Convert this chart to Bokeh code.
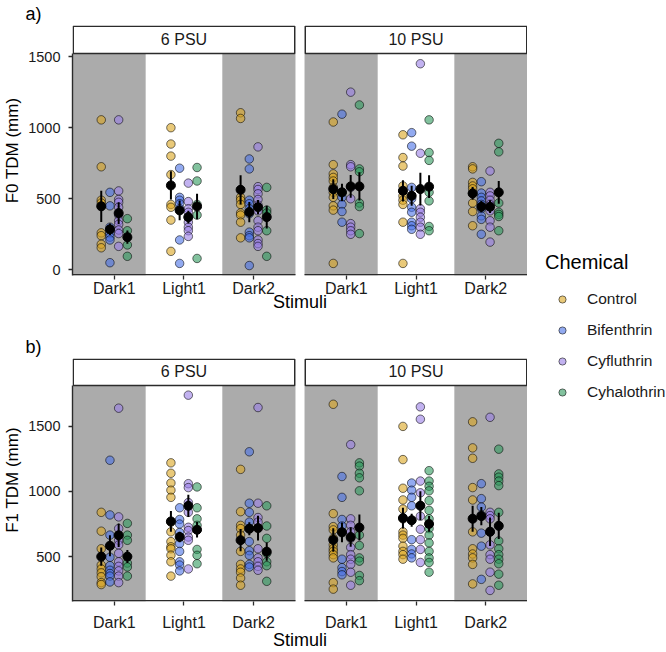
from bokeh.plotting import figure
from bokeh.layouts import row, column
from bokeh.models import Range1d, FixedTicker, Legend, LegendItem
from bokeh.embed import file_html
from bokeh.resources import INLINE
from bokeh.core.properties import value

FONT = "Liberation Sans"

STIMULI = ["Dark1", "Light1", "Dark2"]
FACETS = ["6 PSU", "10 PSU"]
CHEMICALS = ["Control", "Bifenthrin", "Cyfluthrin", "Cyhalothrin"]
COLORS = ["#DAA520", "#4A72E6", "#9A7FE6", "#2E9A5E"]
F0_TICKS = [0, 500, 1000, 1500]
F1_TICKS = [500, 1000, 1500]

# ---------------- F0 TDM (mm), each list = [Dark1, Light1, Dark2] ----------------
F0_6PSU_CONTROL = [[1055, 725, 490, 470, 260, 240, 180, 155],
                   [1000, 885, 800, 670, 460, 440, 350, 130],
                   [1105, 1065, 510, 490, 460, 400, 385, 335, 225]]
F0_6PSU_BIFENTHRIN = [[545, 450, 300, 280, 255, 230, 210, 50],
                      [715, 510, 490, 465, 430, 210, 45],
                      [780, 710, 490, 465, 430, 395, 265, 240, 225, 30]]
F0_6PSU_CYFLUTHRIN = [[1055, 555, 495, 475, 440, 385, 345, 320, 280, 255, 165],
                      [610, 480, 430, 405, 370, 335, 300, 275, 235],
                      [865, 585, 565, 535, 495, 455, 415, 345, 300, 275, 210, 185, 165]]
F0_6PSU_CYHALOTHRIN = [[360, 275, 175, 95],
                       [720, 625, 460, 385, 80],
                       [580, 420, 400, 275, 95]]

F0_10PSU_CONTROL = [[1040, 740, 675, 650, 625, 580, 545, 510, 450, 420, 45],
                    [950, 790, 730, 590, 555, 520, 490, 460, 335, 45],
                    [725, 710, 615, 590, 570, 535, 470, 410, 310]]
F0_10PSU_BIFENTHRIN = [[1095, 545, 510, 460, 410, 335],
                       [965, 870, 580, 500, 440, 405, 335, 310, 285],
                       [620, 540, 510, 485, 460, 430, 380, 355, 250]]
F0_10PSU_CYFLUTHRIN = [[1250, 740, 725, 580, 500, 325, 300, 275, 250],
                       [1450, 820, 430, 405, 370, 335, 300, 250],
                       [695, 545, 520, 490, 460, 415, 345, 300, 195]]
F0_10PSU_CYHALOTHRIN = [[1160, 710, 690, 470, 445, 255],
                        [1055, 825, 770, 545, 485, 305, 275],
                        [890, 830, 470, 405, 390, 375, 275]]

# means and standard errors: rows = stimuli, columns = chemicals
F0_6PSU_MEAN = [[447, 285, 399, 230], [594, 418, 371, 446], [563, 406, 441, 371]]
F0_6PSU_SE = [[110, 40, 76, 47], [100, 70, 45, 90], [103, 72, 50, 80]]
F0_10PSU_MEAN = [[568, 545, 587, 587], [556, 521, 568, 585], [538, 444, 444, 545]]
F0_10PSU_SE = [[70, 60, 80, 100], [75, 70, 115, 80], [45, 40, 45, 80]]

# ---------------- F1 TDM (mm) ----------------
F1_6PSU_CONTROL = [[840, 695, 560, 435, 405, 375, 345, 300, 285],
                   [1220, 1140, 1065, 1010, 955, 765, 690, 615, 575, 560, 510, 460, 350],
                   [1170, 845, 740, 715, 665, 540, 440, 405, 380, 335, 280]]
F1_6PSU_BIFENTHRIN = [[1240, 820, 665, 495, 430, 395, 370, 350, 305],
                      [875, 785, 750, 685, 600, 540, 460, 435, 390],
                      [1305, 910, 840, 765, 715, 615, 545, 510, 440, 420]]
F1_6PSU_CYFLUTHRIN = [[1640, 805, 715, 625, 590, 525, 460, 425, 390, 350, 300],
                      [1740, 1060, 1030, 915, 840, 725, 700, 650, 625, 405],
                      [1645, 910, 800, 765, 560, 490, 460, 425, 395]]
F1_6PSU_CYHALOTHRIN = [[755, 665, 625, 450, 420, 350],
                       [1035, 875, 790, 740, 555, 510, 445],
                       [890, 735, 640, 525, 460, 430, 310]]

F1_10PSU_CONTROL = [[1670, 830, 730, 705, 640, 590, 560, 540, 515, 490, 300, 250],
                    [1500, 1245, 1025, 935, 865, 790, 690, 665, 640, 580, 540, 515, 480],
                    [1535, 1335, 1255, 1030, 935, 690, 560, 520, 490, 440, 290]]
F1_10PSU_BIFENTHRIN = [[1115, 955, 785, 735, 690, 480, 415, 385, 360],
                       [1065, 1010, 955, 890, 780, 630, 555, 520, 490],
                       [1060, 945, 880, 820, 680, 580, 325]]
F1_10PSU_CYFLUTHRIN = [[1360, 790, 740, 690, 640, 570, 515, 480, 440, 380, 280],
                       [1650, 1555, 1080, 990, 890, 810, 710, 630, 555, 455],
                       [1570, 840, 815, 790, 690, 590, 515, 480, 380, 240]]
F1_10PSU_CYHALOTHRIN = [[1220, 1195, 1140, 1105, 1005, 665, 585, 490, 465, 355, 315],
                        [1160, 1080, 1040, 1005, 930, 855, 790, 715, 665, 605, 540, 490, 455, 380],
                        [1325, 1135, 1110, 1080, 1045, 840, 620, 560, 515, 480, 445, 365, 280]]

F1_6PSU_MEAN = [[500, 583, 664, 500], [770, 651, 890, 706], [626, 714, 719, 538]]
F1_6PSU_SE = [[70, 80, 90, 50], [80, 40, 85, 60], [85, 50, 95, 70]]
F1_10PSU_MEAN = [[628, 686, 650, 723], [796, 779, 891, 751], [791, 811, 691, 736]]
F1_10PSU_SE = [[90, 75, 75, 100], [80, 50, 110, 60], [100, 70, 110, 100]]

# ---------------- layout constants ----------------
S = 3.33                      # shift between the two facets (x units)
DODGE = [-0.1875, -0.0625, 0.0625, 0.1875]
XLO, XHI = -0.6, 2.6 + S
BAND_EDGES = [-0.6, 0.45, 1.55, 2.6]
BAND_FILL = ["#ABABAB", None, "#ABABAB"]
TOTAL_W, TOTAL_H = 666, 652
MAIN_W = 527
LEFT_B = 69
FRAME_W = MAIN_W - LEFT_B
LEG_W = TOTAL_W - MAIN_W
DARK = "#2b2b2b"


def make_row(series, means, ses, y_lo, y_hi, ticks, ylabel, tag, height, top, bottom,
             strip_px, label_standoff, title_standoff):
    frame_h = height - top - bottom
    panel_px = frame_h - strip_px
    upp = (y_hi - y_lo) / panel_px
    y_top = y_hi + strip_px * upp
    ppu = FRAME_W / (XHI - XLO)
    p = figure(width=MAIN_W, height=height, x_range=Range1d(XLO, XHI),
               y_range=Range1d(y_lo, y_top), output_backend="svg",
               toolbar_location=None, min_border_left=LEFT_B, min_border_right=0,
               min_border_top=top, min_border_bottom=bottom)
    p.grid.visible = False
    p.outline_line_color = None
    p.background_fill_color = "white"

    # panel tag as title
    p.title.text = tag
    p.title.align = "left"
    p.title.offset = -47
    p.title.standoff = 3
    p.title.text_font = FONT
    p.title.text_font_size = "18px"
    p.title.text_font_style = "normal"
    p.title.text_color = "black"

    # shaded stimulus bands
    bl, br = [], []
    for f in range(len(FACETS)):
        for s in range(len(STIMULI)):
            if BAND_FILL[s]:
                bl.append(f * S + BAND_EDGES[s])
                br.append(f * S + BAND_EDGES[s + 1])
    p.quad(left=bl, right=br, bottom=y_lo, top=y_hi, fill_color=BAND_FILL[0], line_color=None)

    # bottom axis line per facet
    fl = [f * S + BAND_EDGES[0] for f in range(len(FACETS))]
    fr = [f * S + BAND_EDGES[-1] for f in range(len(FACETS))]
    p.quad(left=fl, right=fr, bottom=y_lo, top=y_lo + 1.4 * upp, fill_color=DARK, line_color=None)

    # facet strips
    inset = 0.75 / ppu
    p.quad(left=[v + inset for v in fl], right=[v - inset for v in fr], bottom=y_hi,
           top=y_top - 0.8 * upp, fill_color="white", line_color=DARK, line_width=1.5)
    p.text(x=[(a + b) / 2 for a, b in zip(fl, fr)], y=[(y_hi + y_top) / 2] * len(FACETS),
           text=FACETS, text_font=value(FONT), text_font_size="16px", text_align="center",
           text_baseline="middle", text_color="#1a1a1a")

    # raw points
    for c, chem in enumerate(CHEMICALS):
        xs, ys = [], []
        for f in range(len(FACETS)):
            for s in range(len(STIMULI)):
                for v in series[f][c][s]:
                    xs.append(f * S + s + DODGE[c])
                    ys.append(v)
        p.scatter(x=xs, y=ys, size=8.5, fill_color=COLORS[c], fill_alpha=0.6,
                  line_color="black", line_alpha=0.55, line_width=1)

    # means +/- SE
    mx, my, lo, hi = [], [], [], []
    for f in range(len(FACETS)):
        for s in range(len(STIMULI)):
            for c in range(len(CHEMICALS)):
                m = means[f][s][c]
                e = ses[f][s][c]
                mx.append(f * S + s + DODGE[c])
                my.append(m)
                lo.append(m - e)
                hi.append(m + e)
    p.segment(x0=mx, y0=lo, x1=mx, y1=hi, line_color="black", line_width=2)
    p.scatter(x=mx, y=my, size=9, fill_color="black", line_color="black")

    # axes
    tick_pos = [f * S + s for f in range(len(FACETS)) for s in range(len(STIMULI))]
    xa = p.xaxis[0]
    xa.ticker = FixedTicker(ticks=tick_pos)
    xa.major_label_overrides = {tp: STIMULI[i % len(STIMULI)] for i, tp in enumerate(tick_pos)}
    xa.axis_label = "Stimuli"
    xa.axis_line_color = None
    xa.major_tick_out = 4
    xa.major_tick_in = 0
    xa.major_tick_line_color = DARK
    xa.major_tick_line_width = 1.3
    xa.minor_tick_line_color = None
    xa.major_label_text_font = FONT
    xa.major_label_text_font_size = "16px"
    xa.major_label_text_color = "#1a1a1a"
    xa.major_label_standoff = label_standoff
    xa.axis_label_text_font = FONT
    xa.axis_label_text_font_size = "18px"
    xa.axis_label_text_font_style = "normal"
    xa.axis_label_text_color = "black"
    xa.axis_label_standoff = title_standoff

    ya = p.yaxis[0]
    ya.ticker = FixedTicker(ticks=ticks)
    ya.bounds = (y_lo, y_hi)
    ya.axis_label = ylabel
    ya.axis_line_color = DARK
    ya.axis_line_width = 1.4
    ya.major_tick_out = 4
    ya.major_tick_in = 0
    ya.major_tick_line_color = DARK
    ya.major_tick_line_width = 1.3
    ya.minor_tick_line_color = None
    ya.major_label_text_font = FONT
    ya.major_label_text_font_size = "14.5px"
    ya.major_label_text_color = "#1a1a1a"
    ya.major_label_standoff = 8
    ya.axis_label_text_font = FONT
    ya.axis_label_text_font_size = "17px"
    ya.axis_label_text_font_style = "normal"
    ya.axis_label_text_color = "black"
    ya.axis_label_standoff = 3
    return p


pa = make_row([[F0_6PSU_CONTROL, F0_6PSU_BIFENTHRIN, F0_6PSU_CYFLUTHRIN, F0_6PSU_CYHALOTHRIN],
               [F0_10PSU_CONTROL, F0_10PSU_BIFENTHRIN, F0_10PSU_CYFLUTHRIN, F0_10PSU_CYHALOTHRIN]],
              [F0_6PSU_MEAN, F0_10PSU_MEAN], [F0_6PSU_SE, F0_10PSU_SE],
              -40, 1522, F0_TICKS, "F0 TDM (mm)", "a)", 320, 25, 45, 28, 0, -8)
pb = make_row([[F1_6PSU_CONTROL, F1_6PSU_BIFENTHRIN, F1_6PSU_CYFLUTHRIN, F1_6PSU_CYHALOTHRIN],
               [F1_10PSU_CONTROL, F1_10PSU_BIFENTHRIN, F1_10PSU_CYFLUTHRIN, F1_10PSU_CYHALOTHRIN]],
              [F1_6PSU_MEAN, F1_10PSU_MEAN], [F1_6PSU_SE, F1_10PSU_SE],
              155, 1815, F1_TICKS, "F1 TDM (mm)", "b)", TOTAL_H - 320, 38, 50, 27, 8, -4)

# legend panel (dummy renderers sit outside the visible range; only their legend keys show)
leg = figure(width=LEG_W, height=TOTAL_H, x_range=Range1d(0, 1), y_range=Range1d(0, 1),
             x_axis_type=None, y_axis_type=None, output_backend="svg",
             toolbar_location=None, min_border=0)
leg.grid.visible = False
leg.outline_line_color = None
items = []
for c, chem in enumerate(CHEMICALS):
    r = leg.scatter(x=[-5], y=[-5], size=8, fill_color=COLORS[c], fill_alpha=0.6,
                    line_color="black", line_alpha=0.55)
    items.append(LegendItem(label=chem, renderers=[r]))
legend = Legend(items=items, title="Chemical", location=(18, 251),
                title_text_font=FONT, title_text_font_size="20px", title_text_font_style="normal",
                title_text_color="black", title_standoff=16,
                label_text_font=FONT, label_text_font_size="15.5px", label_text_color="#1a1a1a",
                glyph_width=34, glyph_height=18, label_height=18, label_standoff=8,
                spacing=13, padding=0, margin=0, border_line_color=None,
                background_fill_alpha=0)
leg.add_layout(legend, "center")

layout = row(column(pa, pb), leg)
open("out.html", "w").write(file_html(layout, INLINE))
